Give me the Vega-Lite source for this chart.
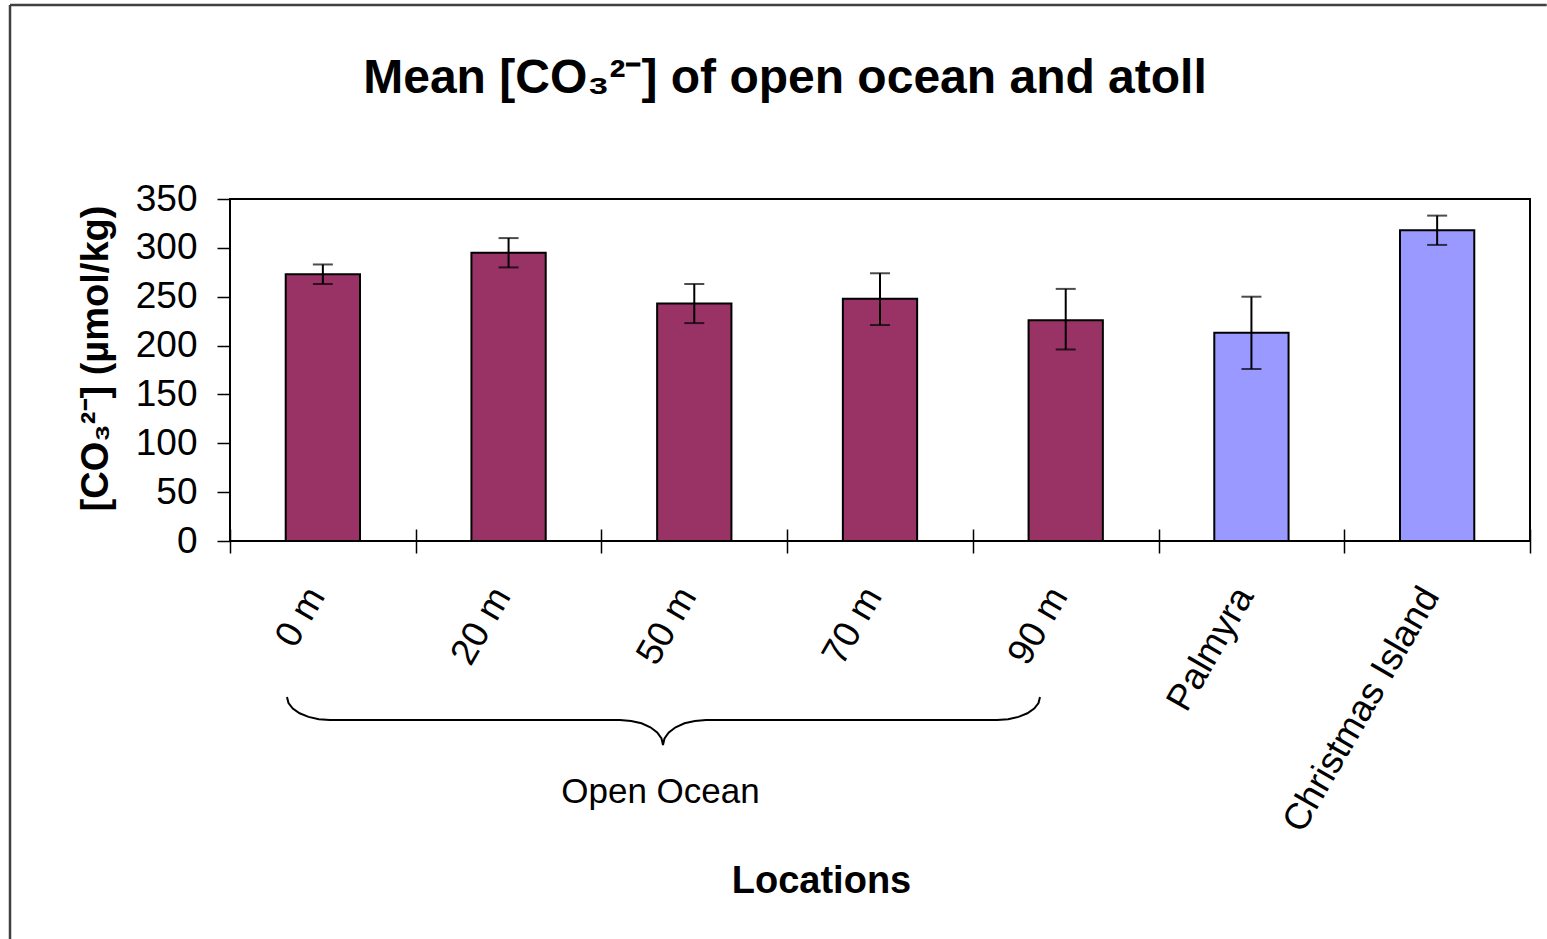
{
  "$schema": "https://vega.github.io/schema/vega-lite/v6.json",
  "width": 1300,
  "height": 342,
  "autosize": {"type": "none"},
  "padding": {"left": 230, "top": 199, "right": 17, "bottom": 398},
  "background": "white",
  "config": {
    "font": "Liberation Sans",
    "view": {"stroke": "black", "strokeWidth": 2}
  },
  "title": {
    "text": "Mean [CO₃²⁻] of open ocean and atoll",
    "fontSize": 48,
    "fontWeight": "bold",
    "color": "black",
    "anchor": "middle",
    "frame": "group",
    "dx": -95,
    "baseline": "alphabetic",
    "offset": -137
  },
  "datasets": {
    "bars": [
      {"location": "0 m", "region": "Open Ocean", "mean": 273, "lo": 263, "hi": 283},
      {"location": "20 m", "region": "Open Ocean", "mean": 295, "lo": 280, "hi": 310},
      {"location": "50 m", "region": "Open Ocean", "mean": 243, "lo": 223, "hi": 263},
      {"location": "70 m", "region": "Open Ocean", "mean": 248, "lo": 221, "hi": 274},
      {"location": "90 m", "region": "Open Ocean", "mean": 226, "lo": 196, "hi": 258},
      {"location": "Palmyra", "region": "Atoll", "mean": 213, "lo": 176, "hi": 250},
      {"location": "Christmas Island", "region": "Atoll", "mean": 318, "lo": 303, "hi": 333}
    ],
    "brace": [
      {"bx": 0.3069, "by": -159.65},
      {"bx": 0.3150, "by": -165.79},
      {"bx": 0.3382, "by": -171.42},
      {"bx": 0.3748, "by": -176.33},
      {"bx": 0.4227, "by": -180.01},
      {"bx": 0.4787, "by": -182.37},
      {"bx": 0.5385, "by": -183.19},
      {"bx": 2.1000, "by": -183.19},
      {"bx": 2.1598, "by": -184.11},
      {"bx": 2.2158, "by": -186.56},
      {"bx": 2.2637, "by": -190.66},
      {"bx": 2.3003, "by": -195.98},
      {"bx": 2.3235, "by": -202.12},
      {"bx": 2.3315, "by": -208.77},
      {"bx": 2.3396, "by": -202.12},
      {"bx": 2.3628, "by": -195.98},
      {"bx": 2.3994, "by": -190.66},
      {"bx": 2.4473, "by": -186.56},
      {"bx": 2.5033, "by": -184.11},
      {"bx": 2.5631, "by": -183.19},
      {"bx": 4.1300, "by": -183.19},
      {"bx": 4.1898, "by": -182.37},
      {"bx": 4.2458, "by": -180.01},
      {"bx": 4.2937, "by": -176.33},
      {"bx": 4.3303, "by": -171.42},
      {"bx": 4.3535, "by": -165.79},
      {"bx": 4.3615, "by": -159.65}
    ],
    "labels": [
      {"lx": 2.318, "ly": -256.9, "label": "Open Ocean"}
    ]
  },
  "layer": [
    {
      "data": {"name": "bars"},
      "encoding": {
        "x": {
          "field": "location",
          "type": "nominal",
          "sort": null,
          "scale": {"paddingInner": 0, "paddingOuter": 0},
          "axis": {
            "title": "Locations",
            "titleFontSize": 38,
            "titleFontWeight": "bold",
            "titleColor": "black",
            "titleX": 591,
            "titleY": 363,
            "titleBaseline": "alphabetic",
            "labelAngle": -60,
            "labelFontSize": 37,
            "labelColor": "black",
            "labelPadding": 37,
            "labelOffset": -7,
            "labelLimit": 500,
            "tickBand": "extent",
            "tickSize": 24,
            "tickColor": "black",
            "tickWidth": 1.5,
            "offset": -12,
            "domain": false
          }
        }
      },
      "layer": [
        {
          "mark": {"type": "bar", "stroke": "black", "strokeWidth": 2, "width": {"band": 0.4}},
          "encoding": {
            "y": {
              "field": "mean",
              "type": "quantitative",
              "scale": {"domain": [0, 350], "nice": false},
              "title": "[CO₃²⁻] (µmol/kg)",
              "axis": {
                "values": [0, 50, 100, 150, 200, 250, 300, 350],
                "grid": false,
                "domain": false,
                "labelFontSize": 37,
                "labelColor": "black",
                "labelPadding": 20,
                "labelOverlap": false,
                "tickSize": 13,
                "tickColor": "black",
                "tickWidth": 1.5,
                "titleFontSize": 38,
                "titleFontWeight": "bold",
                "titleColor": "black",
                "titlePadding": 20,
                "titleY": 159
              }
            },
            "color": {
              "field": "region",
              "type": "nominal",
              "scale": {"domain": ["Open Ocean", "Atoll"], "range": ["#993366", "#9999FF"]},
              "legend": null
            }
          }
        },
        {
          "mark": {"type": "rule", "color": "black", "strokeWidth": 2},
          "encoding": {
            "y": {"field": "lo", "type": "quantitative"},
            "y2": {"field": "hi"}
          }
        },
        {
          "mark": {"type": "tick", "color": "black", "thickness": 2, "size": 20, "orient": "horizontal"},
          "encoding": {"y": {"field": "lo", "type": "quantitative"}}
        },
        {
          "mark": {"type": "tick", "color": "black", "thickness": 2, "size": 20, "orient": "horizontal"},
          "encoding": {"y": {"field": "hi", "type": "quantitative"}}
        }
      ]
    },
    {
      "layer": [
        {
          "data": {"name": "brace"},
          "mark": {"type": "line", "color": "black", "strokeWidth": 2, "clip": false, "interpolate": "linear"},
          "encoding": {
            "x": {"field": "bx", "type": "quantitative", "scale": {"domain": [0, 7], "nice": false, "zero": false}, "axis": null},
            "y": {"field": "by", "type": "quantitative", "scale": {"domain": [0, 350], "nice": false}, "axis": null}
          }
        },
        {
          "data": {"name": "labels"},
          "mark": {"type": "text", "fontSize": 35, "color": "black", "align": "center", "baseline": "middle", "clip": false},
          "encoding": {
            "x": {"field": "lx", "type": "quantitative", "scale": {"domain": [0, 7], "nice": false, "zero": false}, "axis": null},
            "y": {"field": "ly", "type": "quantitative", "scale": {"domain": [0, 350], "nice": false}, "axis": null},
            "text": {"field": "label"}
          }
        },
        {
          "data": {"values": [{}]},
          "mark": {"type": "rule", "color": "#404040", "strokeWidth": 2.5, "clip": false},
          "encoding": {
            "x": {"datum": -1.1846, "type": "quantitative", "scale": {"domain": [0, 7], "nice": false, "zero": false}, "axis": null},
            "x2": {"datum": 7.09},
            "y": {"datum": 548.5, "type": "quantitative", "scale": {"domain": [0, 350], "nice": false}, "axis": null}
          }
        },
        {
          "data": {"values": [{}]},
          "mark": {"type": "rule", "color": "#404040", "strokeWidth": 2.5, "clip": false},
          "encoding": {
            "x": {"datum": -1.1846, "type": "quantitative", "scale": {"domain": [0, 7], "nice": false, "zero": false}, "axis": null},
            "y": {"datum": 548.5, "type": "quantitative", "scale": {"domain": [0, 350], "nice": false}, "axis": null},
            "y2": {"datum": -410}
          }
        }
      ]
    }
  ],
  "resolve": {
    "scale": {"x": "independent", "y": "independent"},
    "axis": {"x": "independent", "y": "independent"}
  }
}
